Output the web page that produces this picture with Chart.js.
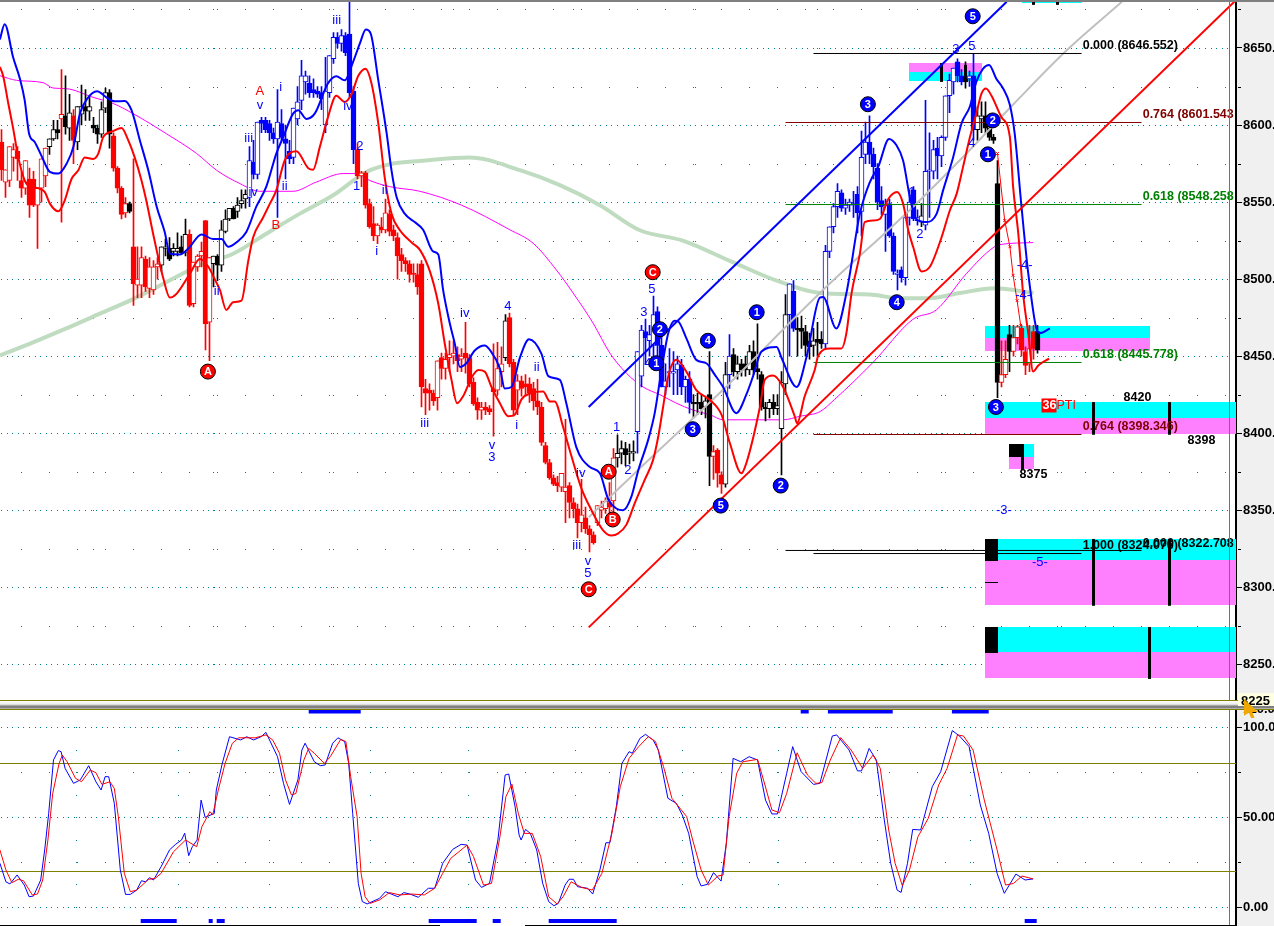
<!DOCTYPE html>
<html><head><meta charset="utf-8">
<style>
html,body{margin:0;padding:0;background:#fff;overflow:hidden;width:1274px;height:926px}
#side{position:absolute;left:1237px;top:0;width:37px;height:926px;background:#f0f0f0}
#topStrip{position:absolute;left:0;top:0;width:1274px;height:2px;background:#808080;z-index:5}
canvas{position:absolute;left:0}
#c1{top:-10px;z-index:2}#c2{top:690px;z-index:1}
#band{position:absolute;left:0;top:700px;width:1274px;height:10px;z-index:3;
background:linear-gradient(#808000 0,#808000 1px,#fff 1px,#eee 4px,#ccc 5px,#808080 6px,#808080 8px,#ddd 9px,#808000 9px,#808000 10px)}
#vline{position:absolute;left:1229px;top:0;width:1px;height:926px;background:#808000;z-index:3}
#box{position:absolute;left:1238px;top:693px;width:36px;height:13px;background:#ffffe1;z-index:4;font:bold 13px 'Liberation Sans';line-height:15px;padding-left:3px;box-sizing:border-box;color:#000}
#cur{position:absolute;left:1244px;top:699px;width:14px;height:19px;background:#f0a800;z-index:6;clip-path:polygon(0 0,100% 68%,60% 68%,75% 100%,50% 100%,35% 72%,0 88%)}
#b1{position:absolute;left:0;top:925px;width:440px;height:1px;background:#000;z-index:3}
#b2{position:absolute;left:525px;top:925px;width:711px;height:1px;background:#000;z-index:3}
</style>
<script src="https://cdn.jsdelivr.net/npm/chart.js@4/dist/chart.umd.min.js"></script>
</head><body>
<div id="side"></div><div id="topStrip"></div><div id="vline"></div><div id="band"></div>
<div id="box">8225</div><div id="cur"></div><div id="b1"></div><div id="b2"></div>
<canvas id="c1" width="1274" height="724"></canvas><canvas id="c2" width="1274" height="246"></canvas>
<script>
// ---- candles: [open, high, low, close], one row per bar ----
const barsA=[[8589,8597,8564,8571],[8563,8571,8553,8571],[8564,8586,8560,8586],[8579,8588,8570,8584],[8583,8586,8564,8578],[8564,8570,8553,8559],[8559,8577,8555,8577],[8565,8572,8540,8548],[8565,8570,8547,8548],[8548,8559,8520,8559],[8559,8578,8550,8578],[8567,8585,8560,8585],[8586,8591,8581,8591],[8591,8603,8590,8597],[8597,8603,8591,8595],[8604,8636,8537,8607],[8606,8632,8594,8599],[8598,8620,8590,8608],[8606,8610,8575,8590],[8589,8612,8584,8612],[8607,8626,8600,8612],[8612,8623,8603,8609],[8609,8618,8603,8612],[8600,8605,8595,8598],[8598,8600,8588,8594],[8594,8615,8592,8610],[8611,8624,8608,8621],[8621,8623,8585,8594],[8593,8595,8570,8572],[8572,8573,8556,8559],[8559,8560,8539,8542],[8543,8553,8540,8549],[8549,8550,8543,8544],[8521,8578,8483,8497],[8496,8521,8488,8500],[8496,8521,8488,8514],[8513,8515,8492,8495],[8494,8514,8488,8508],[8493,8512,8490,8508],[8508,8514,8500,8510],[8509,8521,8505,8521],[8520,8526,8515,8521],[8520,8527,8512,8513],[8518,8523,8515,8520],[8518,8530,8515,8520],[8521,8528,8516,8517],[8517,8539,8515,8529],[8529,8532,8482,8483],[8484,8511,8482,8511],[8508,8516,8505,8515]];
const barsB=[[8515,8524,8508,8518],[8538,8538,8454,8471],[8472,8514,8447,8514],[8510,8515,8495,8515],[8515,8516,8499,8509],[8509,8538,8505,8532],[8531,8545,8530,8539],[8539,8546,8538,8546],[8546,8547,8539,8539],[8544,8553,8540,8548],[8549,8558,8546,8551],[8552,8558,8546,8555],[8553,8586,8547,8577],[8576,8590,8565,8568],[8568,8602,8565,8602],[8603,8605,8595,8601],[8603,8605,8595,8597],[8601,8603,8590,8595],[8595,8598,8588,8591],[8591,8623,8540,8602],[8601,8610,8590,8592],[8591,8600,8565,8588],[8583,8590,8575,8578],[8579,8611,8575,8611],[8604,8625,8600,8615],[8616,8642,8610,8632],[8628,8635,8620,8632],[8627,8632,8618,8621],[8623,8630,8618,8621],[8622,8625,8618,8620],[8621,8625,8610,8617],[8600,8644,8595,8622],[8621,8645,8618,8645],[8643,8660,8640,8657],[8657,8660,8650,8653],[8653,8662,8648,8658],[8658,8660,8645,8647],[8659,8680,8618,8621],[8622,8625,8575,8584],[8584,8588,8565,8567],[8567,8570,8560,8569],[8569,8570,8546,8548],[8549,8552,8533,8534],[8536,8547,8525,8528],[8528,8536,8523,8535],[8534,8540,8530,8532],[8532,8552,8530,8543],[8542,8545,8528,8531],[8532,8535,8525,8528],[8527,8530,8500,8515]];
const barsC=[[8516,8520,8505,8512],[8512,8514,8505,8510],[8510,8512,8498,8503],[8504,8510,8498,8503],[8503,8510,8490,8495],[8510,8512,8417,8430],[8429,8435,8412,8426],[8428,8432,8415,8426],[8426,8428,8418,8421],[8423,8447,8415,8447],[8449,8452,8435,8442],[8442,8452,8435,8448],[8449,8460,8440,8451],[8450,8460,8445,8452],[8451,8456,8440,8447],[8448,8455,8440,8450],[8452,8472,8439,8449],[8449,8451,8430,8432],[8433,8436,8418,8419],[8420,8423,8409,8415],[8415,8420,8409,8417],[8417,8420,8412,8415],[8416,8418,8412,8414],[8429,8458,8398,8427],[8428,8459,8425,8442],[8440,8456,8430,8445],[8449,8477,8447,8473],[8475,8478,8443,8445],[8446,8448,8411,8415],[8428,8438,8412,8434],[8434,8437,8424,8429],[8432,8438,8425,8430],[8432,8436,8420,8426],[8429,8433,8415,8421],[8421,8435,8412,8417],[8417,8420,8392,8394],[8392,8394,8380,8381],[8381,8383,8370,8371],[8371,8373,8366,8367],[8368,8372,8362,8366],[8365,8374,8362,8374],[8362,8409,8342,8365],[8366,8368,8345,8355],[8355,8358,8345,8351],[8351,8354,8332,8342],[8342,8370,8336,8347],[8345,8352,8335,8338],[8338,8340,8323,8334],[8334,8336,8328,8329],[8342,8353,8340,8353]];
const barsD=[[8350,8356,8345,8352],[8351,8358,8348,8356],[8355,8368,8345,8352],[8356,8390,8345,8384],[8384,8399,8378,8387],[8387,8395,8380,8390],[8390,8394,8379,8386],[8387,8393,8380,8388],[8387,8395,8382,8388],[8401,8453,8387,8453],[8437,8470,8430,8467],[8466,8474,8445,8462],[8460,8470,8450,8464],[8457,8489,8445,8477],[8479,8482,8450,8457],[8457,8462,8430,8430],[8430,8445,8425,8434],[8439,8455,8430,8440],[8439,8453,8425,8440],[8441,8450,8425,8445],[8444,8448,8425,8430],[8430,8437,8420,8435],[8435,8440,8413,8420],[8420,8425,8410,8419],[8420,8426,8412,8419],[8420,8425,8412,8416],[8417,8423,8410,8421],[8425,8453,8366,8385],[8385,8392,8370,8388],[8389,8390,8365,8374],[8373,8375,8361,8367],[8367,8446,8365,8438],[8438,8464,8429,8450],[8451,8455,8437,8440],[8440,8450,8435,8445],[8445,8448,8437,8441],[8445,8450,8437,8441],[8441,8457,8438,8453],[8453,8460,8438,8441],[8442,8471,8435,8440],[8438,8440,8415,8417],[8417,8420,8408,8416],[8416,8422,8410,8420],[8420,8425,8412,8416],[8416,8425,8412,8418],[8403,8440,8373,8433],[8432,8490,8425,8477],[8477,8497,8450,8497],[8492,8499,8466,8468],[8468,8475,8450,8467]];
const barsE=[[8468,8476,8455,8466],[8466,8470,8450,8457],[8460,8465,8448,8456],[8457,8468,8450,8460],[8461,8472,8450,8459],[8461,8466,8455,8458],[8458,8522,8455,8518],[8518,8534,8514,8534],[8534,8549,8530,8547],[8547,8562,8540,8557],[8556,8558,8544,8546],[8546,8552,8542,8548],[8548,8552,8544,8550],[8548,8557,8540,8549],[8555,8560,8530,8543],[8544,8596,8528,8579],[8581,8602,8575,8589],[8589,8606,8575,8581],[8581,8585,8565,8573],[8572,8575,8545,8550],[8551,8560,8542,8547],[8542,8552,8518,8548],[8549,8552,8527,8528],[8528,8530,8503,8505],[8503,8506,8493,8504],[8506,8508,8498,8501],[8501,8540,8496,8540],[8540,8558,8535,8550],[8558,8560,8538,8539],[8538,8545,8535,8540],[8537,8549,8534,8541],[8535,8616,8532,8570],[8570,8595,8540,8571],[8570,8590,8565,8584],[8585,8592,8565,8580],[8580,8593,8573,8592],[8592,8619,8590,8619],[8619,8633,8608,8629],[8628,8637,8620,8637],[8641,8643,8628,8632],[8632,8636,8626,8628],[8631,8641,8624,8628],[8630,8635,8625,8632],[8632,8646,8590,8597],[8597,8612,8590,8606],[8604,8615,8595,8606],[8606,8615,8595,8598],[8598,8605,8590,8592],[8592,8594,8588,8590],[8562,8577,8423,8433]];
const barsF=[[8433,8460,8430,8438],[8438,8460,8436,8448],[8464,8470,8440,8453],[8453,8470,8450,8462],[8462,8470,8458,8469],[8468,8470,8450,8454],[8453,8456,8438,8444],[8445,8470,8440,8455],[8466,8470,8448,8455],[8466,8470,8452,8454]];
const trendRuns=[['r',12],['k',3],['r',1],['k',2],['r',1],['k',9],['r',4],['k',1],['r',7],['k',7],['r',6],['k',9],['b',27],['r',37],['k',1],['r',27],['k',5],['b',14],['k',5],['r',3],['k',1],['b',1],['k',14],['b',2],['k',7],['b',24],['k',1],['b',10],['k',1],['b',2],['k',6],['r',2],['k',1],['r',6],['k',1]];
// ---- overlay curves: [bar, price] ----
const blueBand=[[-.4,8655.5],[.8,8665.4],[2.9,8644],[4.6,8630],[5.8,8616],[6.9,8594.4],[8.3,8589],[10,8580],[12.1,8569.6],[14.2,8568.5],[16.3,8575],[18,8586],[19.6,8607.4],[21.4,8617],[23.9,8622],[26.2,8618],[28.3,8615.4],[30.8,8615.6],[32.5,8609.6],[34.6,8590],[36.7,8570.6],[38.8,8547],[40.8,8530.6],[42.1,8516.5],[44.6,8516],[46.7,8519.8],[50,8529],[52.9,8526],[55,8526],[56.7,8521],[58.8,8524],[61.2,8530.6],[63.7,8547],[66.2,8560],[68.7,8581.5],[70.4,8592],[72.9,8607.4],[74.2,8609.6],[76.2,8604],[78.3,8607.4],[81.6,8627],[83.7,8631.7],[85.8,8629],[87.9,8641],[89.6,8653],[91.1,8662],[92.3,8659.4],[94.2,8629],[96.3,8594.4],[97.5,8570.6],[98.8,8553],[100.8,8542.5],[103.3,8537],[105.4,8532],[107.9,8518],[109.2,8516],[110.4,8493],[112.1,8471],[113.3,8458.4],[114.6,8443],[116.2,8445.4],[118.3,8453.7],[120.8,8457],[122.1,8454],[124.6,8442],[125.8,8429],[127.5,8430],[129.6,8449],[131.9,8461],[135,8451.5],[136.7,8437],[139.6,8434.6],[141.2,8419.5],[143.7,8391],[147.1,8378],[149.6,8374],[151.7,8357],[153.8,8351],[155.4,8350],[157.5,8359],[159.2,8376],[161.7,8396],[163.3,8413],[165,8441],[166.7,8465],[168.3,8473],[169.2,8472.5],[171.2,8461.7],[173.7,8447.6],[176.2,8445.4],[178.3,8438],[180.4,8430],[183.7,8413],[186.2,8425],[187.9,8437],[190,8453],[193.8,8456],[195,8449],[198.8,8430],[201.3,8450],[204.6,8488],[205.4,8488.4],[208.7,8468],[211.2,8490.6],[214.6,8542.5],[217.1,8563],[219.2,8573],[221.9,8591],[223.7,8587],[225.4,8577],[227.1,8553],[228.7,8539],[231.2,8537],[233.8,8542.5],[235.4,8557.6],[237.9,8579],[240,8601],[242.1,8612],[243.7,8628],[245.4,8636.6],[246.9,8639],[248.7,8630],[250.4,8623.7],[252.1,8613],[253.3,8594.4],[255,8547],[256.7,8503.5],[258.7,8468],[259.6,8465],[262.1,8468]];
const redBand=[[-.4,8637.7],[.4,8632],[1.7,8614],[2.9,8598],[4.2,8579],[5.8,8564],[7.1,8560],[9.2,8559],[10.8,8556.6],[12.1,8549],[14.2,8544],[15.8,8551],[17.5,8565],[19.2,8570.6],[20.8,8579],[22.9,8578],[24.2,8581.5],[25.4,8592],[27.9,8596],[30,8598],[31.7,8590],[33.3,8579],[35,8564],[36.2,8551],[37.9,8529.5],[40.4,8501],[42.1,8488],[43.8,8490.6],[47.1,8503.5],[49.6,8513],[51.7,8508],[53.3,8500],[54.6,8493],[56.2,8480],[57.9,8485],[60,8486],[61.7,8512],[62.9,8527],[65.4,8540],[67.1,8549],[68.7,8557.6],[70.8,8577],[73.7,8583],[76.7,8572],[77.9,8571],[79.6,8586],[81.6,8605],[83.7,8619],[85.8,8615],[87.5,8620],[89.2,8632],[91,8636.6],[92.5,8627],[94.2,8601],[95.8,8566],[97.5,8542.5],[99.6,8531.7],[101.2,8527],[102.9,8523],[104.6,8519],[107.1,8505],[109.2,8484],[110.8,8458.4],[112.5,8434.6],[113.9,8419.5],[115.4,8424],[117.5,8436],[119.2,8441],[120.8,8440],[122.5,8430],[124.6,8419.5],[126.7,8411],[128.3,8412],[130,8422],[132.5,8426],[135.4,8427],[137.1,8420.6],[138.3,8420.6],[140.4,8404],[142.5,8385],[145,8364],[147.5,8350],[150.4,8337],[152.5,8333.6],[154.2,8335],[156.2,8340.5],[158.3,8354.5],[160.8,8369.7],[162.9,8382.7],[164.2,8398],[165.4,8417],[166.7,8437],[168.7,8447.6],[171.2,8440],[173.7,8428],[177.1,8421.6],[180,8412],[182.1,8393.5],[185,8374],[186.2,8380.5],[189.6,8417],[190.8,8434.6],[192.9,8437.4],[195.4,8430],[198.3,8411],[198.9,8406.5],[200.8,8424],[203.3,8441],[204.2,8450.5],[207.1,8455],[210,8455],[211.2,8464.6],[212.5,8490.6],[214.6,8516.5],[215.8,8537],[217.9,8538],[219.6,8539],[221.7,8552],[223.9,8556.6],[225.4,8549],[226.7,8531.7],[227.9,8521],[230,8505],[232.1,8508],[235,8527],[237.1,8544.7],[238.8,8555.5],[240.4,8573],[242.1,8592],[243.7,8607.4],[245,8620.4],[246.1,8623.7],[247.5,8619],[250,8605],[252.1,8592],[252.9,8560],[254.2,8529.5],[255.4,8490.6],[256.7,8464.6],[257.9,8440],[259.2,8444],[261.9,8448.4]];
const pinkAvg=[[-.4,8632],[3.8,8629],[10.4,8627.5],[12.9,8624],[16.2,8623.6],[22.9,8618],[27.9,8614],[32.9,8607.4],[41.2,8594.4],[48.8,8581.5],[53.8,8570.6],[59.6,8562],[64.6,8557],[72.9,8557],[78.7,8563],[85.4,8568.5],[88.8,8568.5],[92.1,8564],[97.1,8560],[104.6,8557],[115,8548],[127.1,8532],[132.9,8523.3],[138.7,8506],[142.9,8491],[147.9,8471.4],[152.1,8452],[156.2,8439],[160.4,8430],[164.6,8425],[168.7,8419.5],[172.9,8415],[177.1,8412],[180.4,8408.7],[189.6,8408.7],[195.4,8408.7],[199.6,8411],[204.6,8414],[208.3,8422],[217.9,8446],[227.9,8474],[233.7,8480],[241.2,8503.5],[247.9,8520.4],[249.6,8522.4],[257.9,8523.7]];
const greenAvg=[[-.4,8450.5],[7.9,8459],[16.2,8468],[24.6,8477.6],[32.9,8487],[41.2,8498],[49.6,8509],[57.9,8516.5],[66.2,8529.5],[74.6,8542.5],[82.9,8554.4],[91.2,8569.5],[97.9,8575],[104.6,8576.7],[117,8579],[129.6,8570.7],[139.6,8561],[149.6,8548],[159.6,8531.7],[170.3,8525],[182.8,8511],[193.8,8499],[204.6,8491],[217,8490],[224.6,8487.6],[232,8487.6],[239.6,8491],[248.3,8494],[258,8491]];
const grayAvg=[[146.8,8345.5],[159.1,8376],[180.3,8428],[204.6,8491],[227.8,8546.7],[241.3,8581.7],[252.8,8613],[266.3,8648.5],[280.1,8680]];
const crossLine=[[249,8581.5],[250.8,8538],[252.1,8521],[252.9,8502.5],[253.9,8486],[254.8,8470]];
const blueChannel=[[146.8,8417],[251.3,8680]];
const redChannel=[[146.8,8274],[308.6,8681]];
// ---- retracement levels: [startBar, endBar, price] ----
const fibBlack=[[203,270,8646.43],[203,270,8321.9],[196,285,8323.9]];
const fibMaroon=[[196,285,8601.65],[203,270,8399.15]];
const fibGreen=[[196,285,8548.4],[203,270,8445.9]];
// ---- target zones: [startBar, endBar, cyanTop, split, magentaBottom] ----
const zones=[[226.9,245.1,8628.6,8634.4,8640.2,1],[245.9,287.1,8469.6,8461.8,8453.3,0],[245.9,308.6,8420.2,8409.9,8399.5,0],[251.9,258.1,8393,8384.6,8376.8,0],[245.9,308.6,8331.3,8317.7,8288.5,0],[245.9,308.6,8274.2,8258,8241.1,0]];
const topCyan=[[255.1,270.1,8681,8679]];
const blackBlocks=[[251.9,255.4,8393,8384.6],[245.9,249.1,8331.3,8317],[245.9,249.1,8274.2,8257.5],[252.1,255.1,8681,8680],[245.9,249.1,8303.6,8303]];
const blackStems=[[272.9,8420.2,8399],[291.9,8420.2,8399],[272.9,8331.3,8288],[291.9,8331.3,8288],[286.9,8274.2,8240.5],[255.1,8393,8376],[234.9,8640.2,8628],[240.9,8639,8628],[257.9,8681,8678],[263.9,8681,8678]];
// ---- wave labels ----
const blueCircles=[['5',242.8,8670.6],['3',216.6,8613.5],['2',247.8,8603],['1',246.6,8581],['4',223.8,8485],['1',188.8,8478.5],['4',176.6,8460],['2',164.6,8467.5],['1',163.7,8445.4],['3',172.8,8402.6],['3',248.6,8417],['2',194.8,8366],['5',179.8,8353]];
const redCircles=[['C',162.8,8504.5],['A',51.6,8440],['A',151.8,8375],['B',152.8,8344],['C',146.8,8298.7]];
const blueLabels=[['iii',83.8,8668],['v',64.6,8613],['i',69.8,8624.5],['iii',61.8,8591.4],['ii',70.8,8560],['iv',62.9,8556],['ii',53.8,8492],['iv',86.6,8612],['2',89.6,8586],['1',88.8,8560],['ii',95.8,8557.7],['i',93.8,8518],['iii',105.8,8406.5],['iv',115.8,8478],['4',126.6,8482],['ii',133.8,8443],['i',128.8,8405],['v',122.6,8392],['3',122.6,8384],['iv',144.8,8374],['iii',143.8,8327],['v',146.6,8317],['5',146.6,8309],['1',153.8,8404],['2',156.6,8376],['3',160.6,8478.5],['5',162.6,8493.5],['4',161.6,8445.4],['2',229.6,8529],['1',227.6,8556],['3',238.6,8649],['5',242.6,8651],['4',242.6,8588],['-4-',255.8,8509],['-4-',255.4,8489.5],['-3-',250.6,8350],['-5-',259.6,8316]];
const redLabels=[['A',64.6,8622],['B',68.6,8535]];
const blackNotes=[['8420',284,8423.4],['8398',300,8395.4],['8375',258,8373]];
const fibLabels=[['0.000 (8646.552)',270.3,8651.8,'#000'],['0.764 (8601.543',285.3,8607,'#800000'],['0.618 (8548.258',285.3,8553.8,'#008000'],['0.618 (8445.778)',270.3,8451,'#008000'],['0.764 (8398.346)',270.3,8404,'#800000'],['1.000 (8324.076)',270.3,8327,'#000'],['0.000 (8322.708',285.3,8328.6,'#000']];
// ---- oscillator: [bar, value] ----
const oscBlue=[[-.4,24.3],[1.1,14],[2.1,12.8],[3.9,17.8],[5.7,12.2],[6.9,5.7],[8,6.1],[9.8,15],[10.8,31.7],[11.8,52],[13,81.7],[14.2,86.9],[14.9,86.3],[15.9,77],[18,68.7],[19.7,70.6],[21.8,78.5],[23.6,69.6],[24.9,65],[25.9,72.4],[26.8,72.4],[28.2,57.6],[29.7,20.6],[31,7],[32.2,7],[33.8,9.4],[35,14.6],[36,14],[37,16.3],[38,15],[39.9,22.4],[42,31.7],[43.5,34.8],[45,37.2],[45.8,41],[46.8,28.5],[47.7,33.5],[48.9,37.2],[49.9,59.4],[50.9,49.8],[53.2,52],[53.7,65],[55.2,79.8],[57,94.6],[59.8,92.8],[61.3,94.6],[63,92.8],[64.9,94.6],[66.1,97],[69,83.5],[70.5,68.7],[72,57],[74.1,70.6],[75.1,87.2],[75.9,91],[78.2,80.7],[79.7,78.5],[80.9,78.9],[82.8,91],[84.1,94],[85.8,91.9],[86.8,79.8],[87.8,52],[89.2,13.1],[90.2,3],[91.4,1.7],[94.5,4.8],[96,8.5],[99.1,5.7],[100.6,8],[102.1,7.2],[104.2,5.4],[106.7,10.4],[108.3,10.4],[110.3,24.3],[112.8,32],[114.9,34.8],[116.4,34.4],[118.5,15],[120,10.9],[122,13.1],[124.1,37.2],[125.9,73.3],[126.8,73.9],[128.4,55.7],[129.4,40],[129.9,37.2],[131,43.1],[132.2,40.9],[133.8,31.7],[135.3,13.1],[136.8,3],[138.1,.7],[139.2,2],[140.9,12.2],[141.9,15.4],[143,15.4],[144,11.3],[146.5,10.4],[147.8,7.2],[149.6,20.6],[151.1,35.7],[152.1,35.7],[153.7,55.7],[155.1,79.8],[156.9,86.3],[157.7,85.4],[159.6,93.7],[161,95.9],[162.9,92.8],[164.2,87.2],[166.6,60.4],[168.7,57.6],[170.2,51.1],[171.8,40.9],[173.9,16.9],[174.9,11.7],[176.5,12.6],[178,19.1],[179.9,14.4],[181.2,35.4],[182.9,82.6],[184.8,80.7],[186.9,83.5],[189,81.7],[191,59.4],[192.6,51.7],[194,51.7],[196.3,74.3],[197.8,89.1],[199.9,75.2],[203,68.1],[204.6,68.7],[207.7,95],[208.8,95.6],[211.9,87.2],[214,75.6],[215,75.6],[216.9,88.1],[218.7,81.7],[220.7,48.3],[222.3,24.3],[223.9,9.4],[224.9,8.1],[226.5,24.3],[227.8,43.1],[229.8,42.8],[232.7,66.9],[234.8,75.2],[237.7,98],[239.5,95],[241.9,89.1],[244.7,56.7],[246.8,40.9],[248.9,18.7],[250.7,7.6],[253.6,18.3],[255.9,15],[257.9,15.6]];
const oscRed=[[-.4,31.7],[1.1,20.6],[2.6,13.5],[4.2,15.4],[5.5,14.6],[7.7,6.7],[9,7.2],[10.3,15],[11.6,37.2],[12.8,63.1],[14.4,79.8],[15.2,84.4],[16.4,80.7],[18.5,71.5],[20,69.6],[22.2,76.1],[23.6,74.6],[25.1,68.1],[27.1,69.6],[28.2,65.9],[29.2,50.2],[30.7,18.7],[32.2,8.5],[33.8,9.4],[36.8,15.4],[38.4,15.9],[39.9,18.7],[43,30.7],[46,37.2],[48.8,33.5],[50.1,44.6],[52.1,53],[52.8,51.1],[54.2,65],[55.9,79.8],[57.7,90.9],[59.3,94],[63.4,94],[66.1,95.6],[67.8,92.8],[69.5,85.4],[71,70.6],[72.5,62.2],[73.6,63.1],[75.6,81.7],[76.8,88.1],[78.2,85.4],[80.7,79.8],[82.2,83.5],[84.8,93.1],[86.1,91.9],[87.3,72.4],[88.9,50.2],[89.9,18.7],[90.9,5.7],[92.1,2],[94.5,3.9],[97,8],[99.6,6.7],[102.6,7.2],[105.7,6.7],[108.3,10.4],[110.3,18.7],[112.3,27],[116.4,34.4],[118,28],[120.5,12.2],[122.5,13.1],[124.6,39],[126.1,61.3],[127.6,68.3],[129.2,52],[130.7,40.9],[132.7,40.9],[134.8,28],[136.8,5.7],[138.9,1.7],[140.4,5.7],[142.4,14],[145,10.9],[147.7,9.4],[150.1,18.7],[152.6,40.9],[154.7,66.9],[156.9,82.6],[159.3,89.1],[161.7,94.6],[163.5,91.9],[165.5,78],[167.6,60.4],[171.3,50.2],[172.8,37.2],[174.9,20.6],[176.7,12.2],[179.1,17.2],[180.4,17.8],[181.9,50.2],[183.8,74.3],[185.3,80.7],[189,82],[190.5,70.6],[192.6,53.9],[194.5,52.4],[196.3,63.1],[198.9,85.7],[201.5,73.3],[203.6,68.7],[205.1,69.1],[207.2,81.7],[209.8,94.1],[212.4,87.2],[215.3,77],[217.9,84.4],[219.7,77],[221.8,42.8],[223.4,24.3],[225.2,11.9],[227,20.6],[229.1,39],[231.7,49.3],[234.3,67.8],[236.4,77],[239,95.6],[240.5,95],[242.9,87.2],[245.7,59.4],[248.9,31.7],[251,12.2],[253,13.1],[255.1,17.2],[257.9,15.6]];
const signalTop=[[76.8,89.8],[199.8,201.8],[206.6,222.8],[237.6,246.8]];
const signalBottom=[[34.8,43.8],[51.8,52.8],[53.8,55.8],[106.8,118.8],[122.8,124.8],[136.8,153.8],[255.8,258.8]];
const priceTicks=[8650,8600,8550,8500,8450,8400,8350,8300,8250];
const priceMinor=[8675,8625,8575,8525,8475,8425,8375,8325,8275];
const oscTicks=[110,100,50,0];
const oscMinor=[75,25];
const oscLevels=[79.72,19.72];
const priceColumns=[22.9,52.9,82.9,112.9,142.9,173.4,203.9,234.9,264.9];
const oscColumns=[18.6,44.1,66.9,92.1,116.6,143.4,170.1,194.1,218.9,242];

const XMIN=-.375, XMAX=308.625, FONT="'Liberation Sans'";
const palette={r:'#ff0000',k:'#000000',b:'#0000ff'};
const candles=[...barsA,...barsB,...barsC,...barsD,...barsE,...barsF];
const trend=trendRuns.flatMap(([c,n])=>Array(n).fill(c));
const pts=a=>a.map(([x,y])=>({x,y}));
const line=(data,color,width,order,extra={})=>({type:'line',data:pts(data),borderColor:color,borderWidth:width,pointRadius:0,tension:0,fill:false,order,...extra});
const smooth={cubicInterpolationMode:'monotone'};
const segs=(rows,color,width,order)=>rows.map(([a,b,p])=>line([[a,p],[b,p]],color,width,order));
const xAxis={type:'linear',display:false,min:XMIN,max:XMAX,offset:false,grid:{display:false}};

function dotGrid(ctx,c,full,sparse,colBars,colStep){
  const y=c.scales.y, x=c.scales.x;
  ctx.save();ctx.fillStyle='#008080';
  full.forEach(v=>{const p=Math.round(y.getPixelForValue(v));for(let q=1;q<1229;q+=5.6)ctx.fillRect(Math.round(q),p,1,1);});
  sparse.forEach(v=>{const p=Math.round(y.getPixelForValue(v));for(let q=21;q<1229;q+=28)ctx.fillRect(Math.round(q),p,1,1);});
  colBars.forEach(b=>{const q=Math.round(x.getPixelForValue(b));for(let v=Math.ceil(y.min/colStep)*colStep;v<y.max;v+=colStep)ctx.fillRect(q,Math.round(y.getPixelForValue(v)),1,1);});
  ctx.restore();
}
function minorTicks(ctx,c,vals){
  const y=c.scales.y,r=c.chartArea.right;ctx.save();ctx.fillStyle='#000';
  vals.forEach(v=>ctx.fillRect(r+2,Math.round(y.getPixelForValue(v)),3,1));ctx.restore();
}
const topPlugin={id:'topExtras',
 beforeDatasetsDraw(c){
  const ctx=c.ctx,x=c.scales.x,y=c.scales.y;
  dotGrid(ctx,c,priceTicks,priceMinor,priceColumns,25);
  minorTicks(ctx,c,priceMinor);
  const R=(a,b,t,u,col)=>{ctx.fillStyle=col;const X=x.getPixelForValue(a),Y=y.getPixelForValue(t);ctx.fillRect(Math.round(X),Math.round(Y),Math.round(x.getPixelForValue(b)-X),Math.round(y.getPixelForValue(u)-Y));};
  ctx.save();
  zones.forEach(([a,b,t,m,u,flip])=>{
    if(flip){R(a,b,u,m,'#ff80ff');R(a,b,m,t,'#00ffff');}
    else{R(a,b,t,m,'#00ffff');R(a,b,m,u,'#ff80ff');}
  });
  topCyan.forEach(([a,b,t,u])=>R(a,b,t,u,'#00ffff'));
  blackBlocks.forEach(([a,b,t,u])=>R(a,b,t,u,'#000'));
  ctx.fillStyle='#000';
  blackStems.forEach(([b,t,u])=>{const X=Math.round(x.getPixelForValue(b))-1,Y=y.getPixelForValue(t);ctx.fillRect(X,Y,3,y.getPixelForValue(u)-Y);});
  ctx.restore();
 },
 afterDatasetsDraw(c){
  const ctx=c.ctx,x=c.scales.x,y=c.scales.y;
  ctx.save();ctx.beginPath();ctx.rect(0,0,1236,724);ctx.clip();
  ctx.textBaseline='middle';
  const put=(t,b,p,font,col,al)=>{ctx.font=font;ctx.fillStyle=col;ctx.textAlign=al||'center';ctx.fillText(t,x.getPixelForValue(b),y.getPixelForValue(p));};
  blueLabels.forEach(([t,b,p])=>put(t,b,p,`13px ${FONT}`,'#0000ff'));
  redLabels.forEach(([t,b,p])=>put(t,b,p,`13px ${FONT}`,'#ff0000'));
  blackNotes.forEach(([t,b,p])=>put(t,b,p,`bold 12.5px ${FONT}`,'#000'));
  fibLabels.forEach(([t,b,p,col])=>put(t,b,p,`bold 12.5px ${FONT}`,col,'left'));
  const disc=(t,b,p,col)=>{const X=x.getPixelForValue(b),Y=y.getPixelForValue(p);
    ctx.beginPath();ctx.arc(X,Y,7.5,0,Math.PI*2);ctx.fillStyle=col;ctx.fill();ctx.lineWidth=1;ctx.strokeStyle='#000';ctx.stroke();
    ctx.font=`bold 11px ${FONT}`;ctx.fillStyle='#fff';ctx.textAlign='center';ctx.fillText(t,X,Y+.5);};
  blueCircles.forEach(([t,b,p])=>disc(t,b,p,'#0000ff'));
  redCircles.forEach(([t,b,p])=>disc(t,b,p,'#ff0000'));
  const bx=x.getPixelForValue(260),by=y.getPixelForValue(8418);
  ctx.fillStyle='#ff0000';ctx.fillRect(bx,by-7,15,14);
  ctx.font=`bold 12.5px ${FONT}`;ctx.fillStyle='#fff';ctx.textAlign='left';ctx.fillText('36',bx+1,by+.5);
  ctx.fillStyle='#ff0000';ctx.font=`12.5px ${FONT}`;ctx.fillText('PTI',bx+15,by+.5);
  ctx.restore();
 }};
const oscPlugin={id:'oscExtras',
 beforeDatasetsDraw(c){
  dotGrid(c.ctx,c,[100,50,0],oscMinor,oscColumns,12.5);
  minorTicks(c.ctx,c,oscMinor);
 }};
const tickCfg=vals=>({position:'right',afterFit(s){s.width=38;},
  afterBuildTicks(s){s.ticks=vals.map(value=>({value}));},
  border:{color:'#000',width:2},
  grid:{drawOnChartArea:false,drawTicks:true,tickLength:6,tickColor:'#000'},
  ticks:{color:'#000',padding:1,autoSkip:false,maxRotation:0,font:{family:'Liberation Sans',size:13,weight:'bold'},callback:v=>(+v).toFixed(2)}});
const base={responsive:false,animation:false,devicePixelRatio:1,events:[],layout:{autoPadding:false,padding:0},plugins:{legend:{display:false},tooltip:{enabled:false},title:{display:false}}};

const wickCols=candles.map((r,i)=>palette[trend[i]]);
const bodyFill=candles.map((r,i)=>r[3]<r[0]?palette[trend[i]]:'#ffffff');
const d1=[
 line(greenAvg,'#c0dcc0',4,20,smooth),
 line(pinkAvg,'#ff00ff',1,19,smooth),
 {type:'bar',order:18,grouped:false,barThickness:1,borderWidth:0,backgroundColor:wickCols,data:candles.map((r,i)=>({x:i,y:[r[2],r[1]]}))},
 {type:'bar',order:17,grouped:false,barThickness:5,borderWidth:1,borderSkipped:false,borderColor:wickCols,backgroundColor:bodyFill,data:candles.map((r,i)=>({x:i,y:[Math.min(r[0],r[3]),Math.max(r[0],r[3])]}))},
 line(grayAvg,'#c0c0c0',2,16,smooth),
 ...segs(fibBlack,'#000',1,15),...segs(fibMaroon,'#800000',1,15),...segs(fibGreen,'#008000',1,15),
 line(blueBand,'#0000ff',2,12,smooth),
 line(redBand,'#ff0000',2,11,smooth),
 line(crossLine,'#ff0000',1,10,{pointRadius:2,pointStyle:'crossRot',pointBorderColor:'#ff0000',pointBorderWidth:1}),
 line(blueChannel,'#0000ff',2,9),
 line(redChannel,'#ff0000',2,9),
];
const priceChart=new Chart(document.getElementById('c1'),{data:{datasets:d1},plugins:[topPlugin],options:{...base,
  scales:{x:xAxis,y:{...tickCfg(priceTicks),type:'linear',min:8224.3,max:8681.15}}}});
// price scale: page-y 0 is 8681.15, one page pixel is 0.649 points
{const a=priceChart.chartArea,o=priceChart.options.scales.y;
 o.max=8681.15-.649*(a.top-10);o.min=8681.15-.649*(a.bottom-10);priceChart.update();}
const signalVal=108.6, lowVal=-7.8;
const d2=[
 ...oscLevels.map(v=>line([[XMIN,v],[XMAX,v]],'#808000',1,9)),
 ...signalTop.map(([a,b])=>line([[a,signalVal],[b,signalVal]],'#0000ff',4,5)),
 ...signalBottom.map(([a,b])=>line([[a,lowVal],[b,lowVal]],'#0000ff',4,5)),
 line(oscBlue,'#0000ff',1,4),
 line(oscRed,'#ff0000',1,3),
];
const oscChart=new Chart(document.getElementById('c2'),{data:{datasets:d2},plugins:[oscPlugin],options:{...base,
  scales:{x:xAxis,y:{...tickCfg(oscTicks),type:'linear',min:-10.56,max:115}}}});
// oscillator scale: value 0 sits at page-y 907, 1.8 page pixels per point
{const a=oscChart.chartArea,o=oscChart.options.scales.y;
 o.max=(907-(a.top+690))/1.8;o.min=(907-(a.bottom+690))/1.8;oscChart.update();}
</script>
</body></html>
